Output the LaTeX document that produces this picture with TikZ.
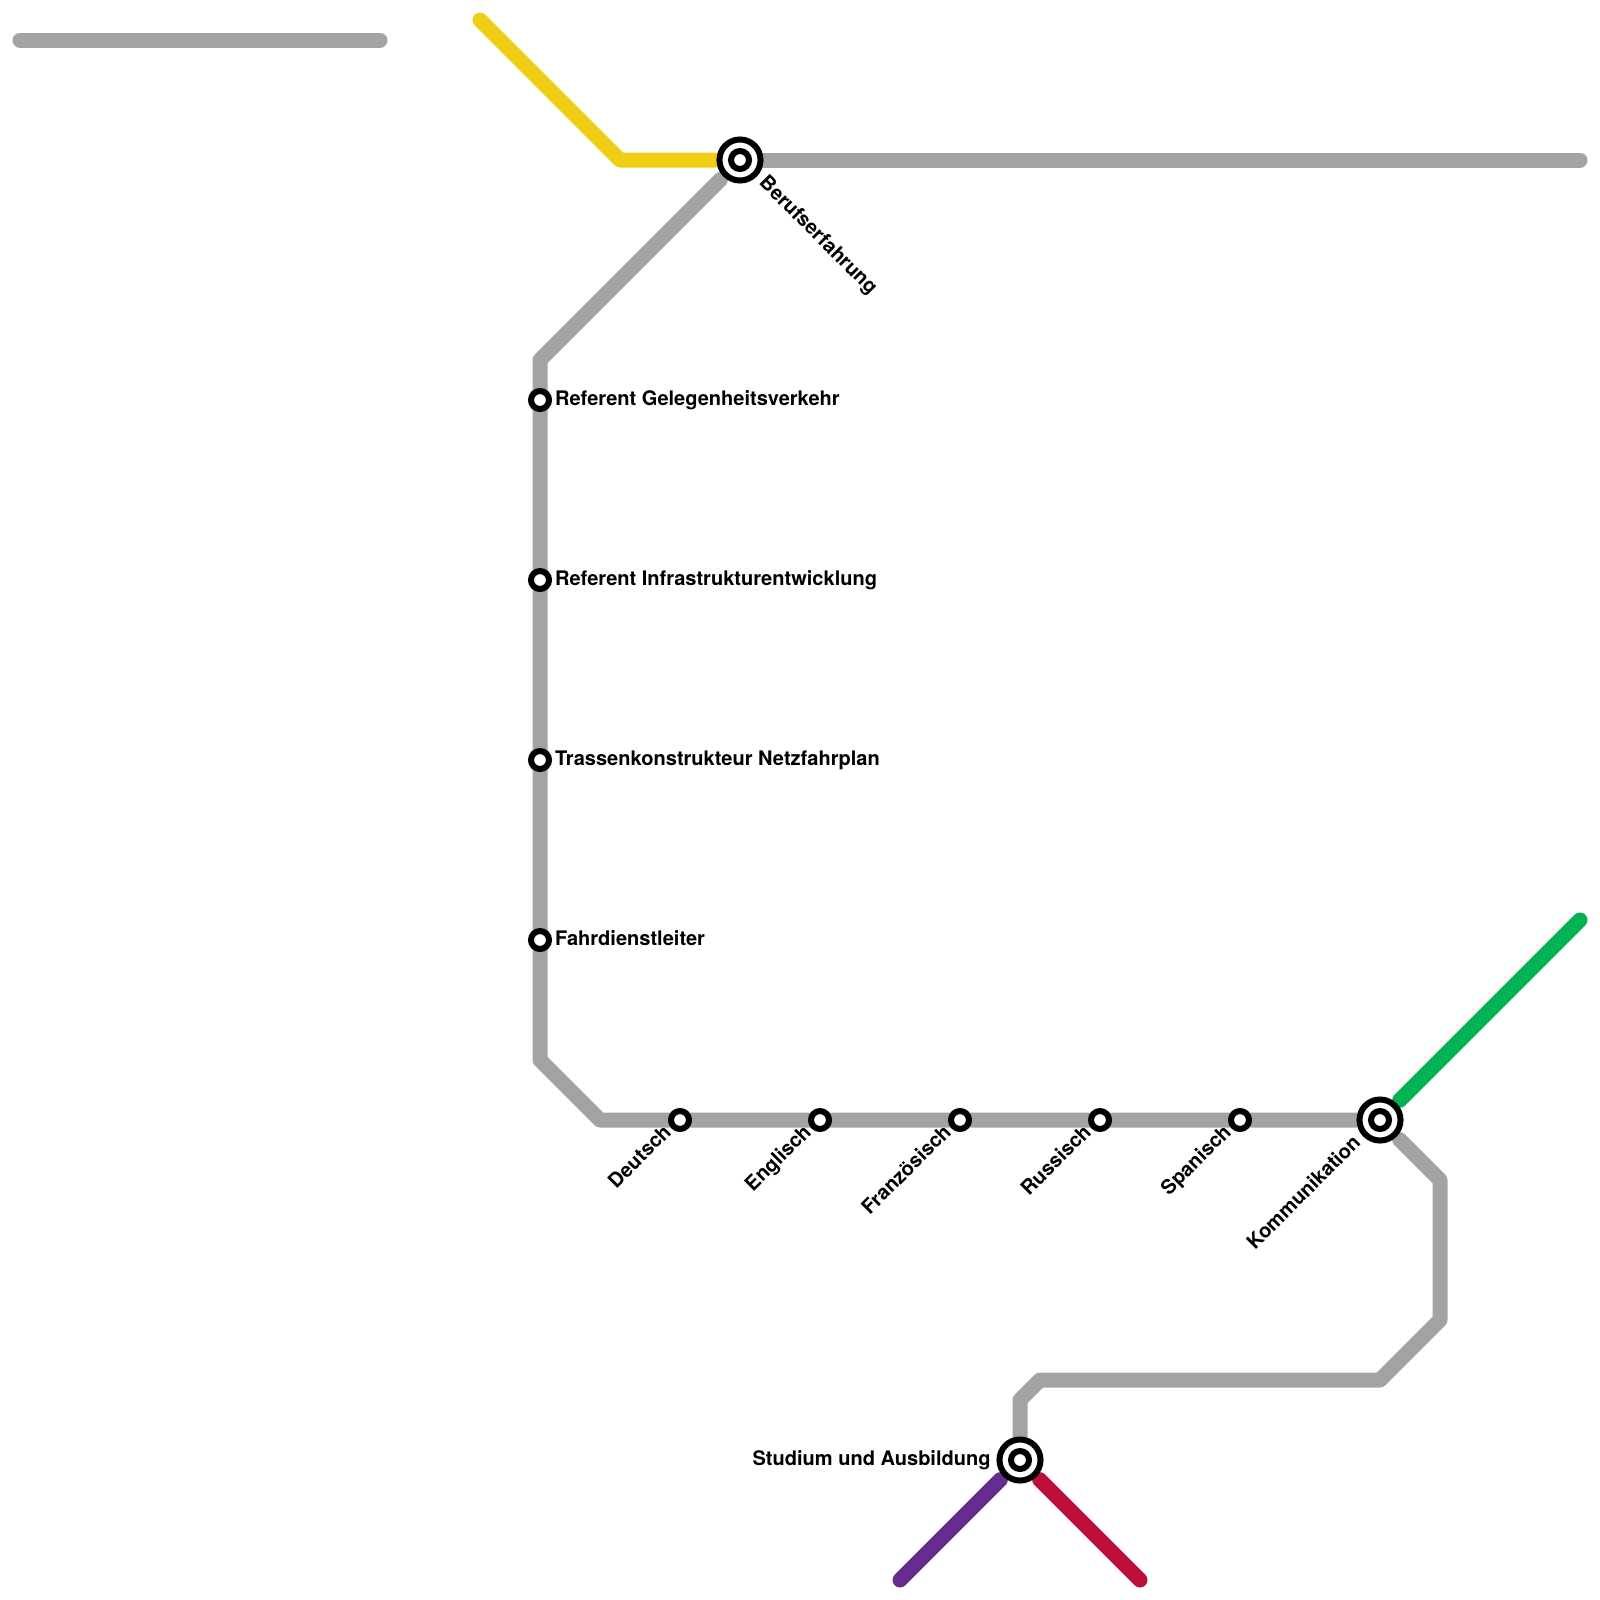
\documentclass[tikz,border=0pt]{standalone}
\usepackage{fontspec}
\setmainfont{TeX Gyre Heros}
\usetikzlibrary{positioning,backgrounds}

\definecolor{linegray}{HTML}{A3A3A3}
\definecolor{lineyellow}{HTML}{F0CE15}
\definecolor{linegreen}{HTML}{00B251}
\definecolor{linepurple}{HTML}{662C90}
\definecolor{linered}{HTML}{BD1038}

\begin{document}
\begin{tikzpicture}[
  x=0.5cm, y=-0.5cm,
  font=\fontsize{14.25}{16}\selectfont\bfseries,
  route/.style={line width=10.67pt, line cap=round, line join=round},
  stop/.style={draw, circle, line width=4.27pt, fill=white, minimum size=12.8pt, inner sep=0pt},
  hub/.style={draw, circle, line width=4.27pt, fill=white, minimum size=29.2pt, inner sep=0pt},
  lbl/.style={inner sep=0pt, text height=10pt, text depth=1.6pt},
  tiltlbl/.style={inner sep=0pt, text height=9pt, text depth=3.4pt},
  uplbl/.style={tiltlbl, rotate=45, anchor=east, outer xsep=#1},
  uplbl/.default=2.1pt
]
\useasboundingbox (0,0) rectangle (80,80);

% Interchanges
\node[hub] (beruf) at (37,8) {};
\node[stop] (berufin) at (37,8) {};
\node[hub] (kommu) at (69,56) {};
\node[stop] (kommuin) at (69,56) {};
\node[hub] (studium) at (51,73) {};
\node[stop] (studiumin) at (51,73) {};

% Stops on the long line
\node[stop] (gelegen) at (27,20) {};
\node[stop] (infra) at (27,29) {};
\node[stop] (trasse) at (27,38) {};
\node[stop] (fahrd) at (27,47) {};
\node[stop] (deutsch) at (34,56) {};
\node[stop] (englisch) at (41,56) {};
\node[stop] (franz) at (48,56) {};
\node[stop] (russisch) at (55,56) {};
\node[stop] (spanisch) at (62,56) {};

% Labels
\node[lbl, right=2pt of gelegen] (gelegenlbl) {Referent Gelegenheitsverkehr};
\node[lbl, right=2pt of infra] (infralbl) {Referent Infrastrukturentwicklung};
\node[lbl, right=2pt of trasse] (trasselbl) {Trassenkonstrukteur Netzfahrplan};
\node[lbl, right=2pt of fahrd] (fahrdlbl) {Fahrdienstleiter};
\node[lbl, left=4pt of studium] (studiumlbl) {Studium und Ausbildung};
\node[tiltlbl, rotate=-45, anchor=west, outer xsep=4.6pt] (beruflbl) at (beruf.south east) {Berufserfahrung};
\node[uplbl] (deutschlbl) at (deutsch.south west) {Deutsch};
\node[uplbl] (englischlbl) at (englisch.south west) {Englisch};
\node[uplbl] (franzlbl) at (franz.south west) {Französisch};
\node[uplbl] (russischlbl) at (russisch.south west) {Russisch};
\node[uplbl] (spanischlbl) at (spanisch.south west) {Spanisch};
\node[uplbl=4.6pt] (kommulbl) at (kommu.south west) {Kommunikation};

% Line ends and bends
\coordinate (stubA) at (1,2);
\coordinate (stubB) at (19,2);
\coordinate (yelA) at (24,1);
\coordinate (yelB) at (31,8);
\coordinate (eastend) at (79,8);
\coordinate (greenend) at (79,46);
\coordinate (purpleend) at (45,79);
\coordinate (redend) at (57,79);
\coordinate (bendA) at (27,18);
\coordinate (bendB) at (27,53);
\coordinate (bendC) at (30,56);
\coordinate (bendD) at (72,59);
\coordinate (bendE) at (72,66);
\coordinate (bendF) at (69,69);
\coordinate (bendG) at (52,69);
\coordinate (bendH) at (51,70);

\begin{scope}[on background layer]
  \draw[route, linegray] (stubA) -- (stubB);
  \draw[route, lineyellow] (yelA) -- (yelB) -- (beruf);
  \draw[route, linegray] (beruf) -- (eastend);
  \draw[route, linegray, shorten <=3pt] (beruf) -- (bendA) -- (bendB) -- (bendC) -- (kommu);
  \draw[route, linegray, shorten <=3pt] (kommu) -- (bendD) -- (bendE) -- (bendF) -- (bendG) -- (bendH) -- (studium);
  \draw[route, linegreen, shorten <=3pt] (kommu) -- (greenend);
  \draw[route, linepurple, shorten <=3pt] (studium) -- (purpleend);
  \draw[route, linered, shorten <=3pt] (studium) -- (redend);
\end{scope}
\end{tikzpicture}
\end{document}
